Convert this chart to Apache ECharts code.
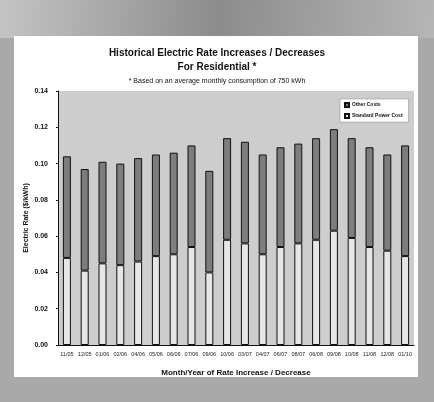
<!DOCTYPE html>
<html><head><meta charset="utf-8">
<script src="https://cdn.jsdelivr.net/npm/echarts@6/dist/echarts.min.js"></script>
<style>html,body{margin:0;padding:0;background:#fff}#c{width:434px;height:402px}</style>
</head><body><div id="c"></div>
<script>
const categories = ["11/05","12/05","01/06","02/06","04/06","05/06","06/06","07/06","09/06","10/06","03/07","04/07","06/07","08/07","06/08","09/08","10/08","11/08","12/08","01/10"];
const totalRate = [0.104,0.097,0.101,0.100,0.103,0.105,0.106,0.110,0.096,0.114,0.112,0.105,0.109,0.111,0.114,0.119,0.114,0.109,0.105,0.110];
const standardPowerCost = [0.048,0.041,0.045,0.044,0.046,0.049,0.050,0.054,0.040,0.058,0.056,0.050,0.054,0.056,0.058,0.063,0.059,0.054,0.052,0.049];
const otherCosts = totalRate.map((t,i)=>+(t-standardPowerCost[i]).toFixed(3));
const yTicks = ["0.00","0.02","0.04","0.06","0.08","0.10","0.12","0.14"];

const chart = echarts.init(document.getElementById('c'));
const F = 'Liberation Sans, Arial, sans-serif';
chart.setOption({
  animation:false,
  backgroundColor:'#a9a9a9',
  graphic:[
    {type:'rect',left:0,top:0,shape:{width:434,height:38},style:{fill:new echarts.graphic.LinearGradient(0,0,1,1,[{offset:0,color:'#c4c4c4'},{offset:0.5,color:'#8c8c8c'},{offset:1,color:'#b5b5b5'}])},z:-2},
    {type:'rect',left:14,top:36,shape:{width:404,height:341},style:{fill:'#ffffff'},z:-1},
    {type:'text',left:'center',top:48,style:{text:'Historical Electric Rate Increases / Decreases',font:'bold 10px '+F,fill:'#111'}},
    {type:'text',left:'center',top:62,style:{text:'For Residential *',font:'bold 10px '+F,fill:'#111'}},
    {type:'text',left:'center',top:78,style:{text:'* Based on an average monthly consumption of 750 kWh',font:'7px '+F,fill:'#111'}}
  ],
  legend:{
    data:['Other Costs','Standard Power Cost'],icon:'rect',
    orient:'vertical',left:340,top:99,itemWidth:4,itemHeight:4,itemGap:5,
    padding:[3,6,3,4],backgroundColor:'#ffffff',borderColor:'#888',borderWidth:0.5,
    textStyle:{fontSize:5,fontFamily:F,fontWeight:'bold',color:'#111',padding:[0,0,0,-2]}
  },
  grid:{left:58,right:20,top:91,bottom:57,show:true,backgroundColor:'#cdcdcd',borderWidth:0},
  xAxis:{
    type:'category',data:categories,
    axisLine:{lineStyle:{color:'#111',width:1}},
    axisTick:{show:false},
    axisLabel:{interval:0,fontSize:5.5,fontFamily:F,color:'#222',margin:6},
    name:'Month/Year of Rate Increase / Decrease',nameLocation:'middle',nameGap:24,
    nameTextStyle:{fontSize:8,fontWeight:'bold',fontFamily:F,color:'#111'}
  },
  yAxis:{
    type:'value',min:0,max:0.14,interval:0.02,
    axisLine:{show:true,lineStyle:{color:'#111',width:1}},
    axisTick:{show:true,length:2,lineStyle:{color:'#111'}},
    splitLine:{show:false},
    axisLabel:{fontSize:7,fontWeight:'bold',fontFamily:F,color:'#111',margin:10,formatter:(v)=>yTicks[Math.round(v/0.02)]},
    name:'Electric Rate ($/kWh)',nameLocation:'middle',nameGap:28,nameRotate:90,nameMoveOverlap:false,
    nameTextStyle:{fontSize:7,fontWeight:'bold',fontFamily:F,color:'#111'}
  },
  series:[
    {name:'Standard Power Cost',type:'bar',stack:'r',data:standardPowerCost,barWidth:8,
     itemStyle:{color:'#e6e6e6',borderColor:'#111',borderWidth:1}},
    {name:'Other Costs',type:'bar',stack:'r',data:otherCosts,barWidth:8,
     itemStyle:{color:'#7d7d7d',borderColor:'#111',borderWidth:1}}
  ]
});
</script></body></html>
